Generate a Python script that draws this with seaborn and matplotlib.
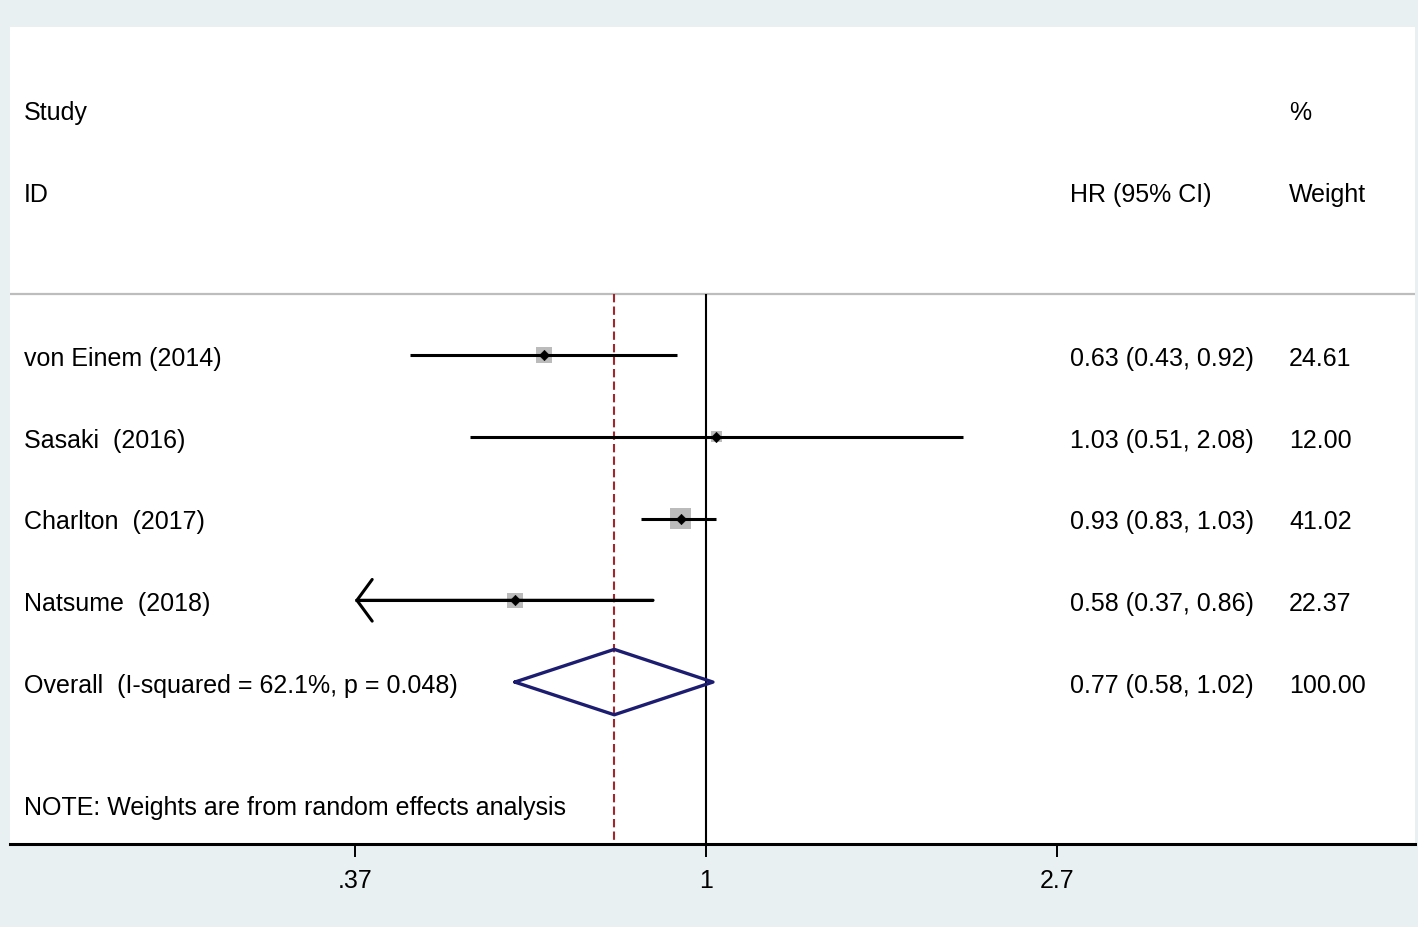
import numpy as np
import pandas as pd
import seaborn as sns
import matplotlib.pyplot as plt

# study rows
studies = ["von Einem (2014)", "Sasaki  (2016)", "Charlton  (2017)", "Natsume  (2018)"]
hr = [0.63, 1.03, 0.93, 0.58]
ci_lo = [0.43, 0.51, 0.83, 0.366]
ci_hi = [0.92, 2.08, 1.03, 0.86]
weights = [24.61, 12.00, 41.02, 22.37]

# pooled estimate
overall_label = "Overall  (I-squared = 62.1%, p = 0.048)"
overall_hr = 0.77
overall_lo = 0.58
overall_hi = 1.02
overall_weight = 100.00

note = "NOTE: Weights are from random effects analysis"
tick_values = [np.exp(-1), 1.0, np.exp(1)]
tick_labels = [".37", "1", "2.7"]

df = pd.DataFrame({"study": studies, "hr": hr, "lo": ci_lo, "hi": ci_hi,
                   "weight": weights, "row": range(len(studies))})
overall_row = len(studies)

sns.set_style("white")
plt.rcParams["font.family"] = ["Liberation Sans", "DejaVu Sans"]
plt.rcParams["text.color"] = "black"

bg = "#e9f0f2"
fig = plt.figure(figsize=(14.18, 9.28), dpi=100, facecolor=bg)
ax = fig.add_axes([10 / 1418, 83 / 928, 1405 / 1418, 817 / 928])
ax.set_facecolor("white")
ax.set_xscale("log")
ax.set_xlim(np.exp(-1.983), np.exp(2.02))
ax.set_ylim(5.98, -4.01)

x_min = tick_values[0]
y_top = -0.75
y_bot = 5.98

# reference lines
ax.vlines(1.0, y_top, y_bot, color="black", lw=1.5, zorder=2)
ax.vlines(overall_hr, y_top, y_bot, color="#a3262e", lw=1.5,
          linestyle=(0, (4, 2)), zorder=2)
ax.axhline(y_top, color="#bdbdbd", lw=1.6, zorder=1)

# weight boxes
sns.scatterplot(data=df, x="hr", y="row", size="weight", sizes=(0, 560),
                size_norm=(0, 100), marker="s", color="#bbbbbb", edgecolor="none",
                legend=False, ax=ax, zorder=3)

# confidence intervals
for _, r in df.iterrows():
    lo = max(r["lo"], x_min)
    ax.hlines(r["row"], lo, r["hi"], color="black", lw=2.2, zorder=4)
    if r["lo"] < x_min:
        ax.annotate("", xy=(x_min, r["row"]), xytext=(r["hi"], r["row"]),
                    arrowprops=dict(arrowstyle="->,head_length=0.55,head_width=0.75",
                                    lw=2.2, color="black", mutation_scale=20,
                                    shrinkA=0, shrinkB=0), zorder=4)

sns.scatterplot(data=df, x="hr", y="row", marker="D", s=28, color="black",
                edgecolor="black", legend=False, ax=ax, zorder=5)

# pooled diamond
ax.plot([overall_lo, overall_hr, overall_hi, overall_hr, overall_lo],
        [overall_row, overall_row - 0.4, overall_row, overall_row + 0.4, overall_row],
        color="#1c1c70", lw=2.4, zorder=5)

# text columns
tr = ax.get_yaxis_transform()
fs = 18
dy = 0.035
x_study, x_hr, x_w = 0.00996, 0.7544, 0.9103


def put(x, y, s):
    ax.text(x, y + dy, s, transform=tr, fontsize=fs, va="center", color="black")


put(x_study, -3, "Study")
put(x_study, -2, "ID")
put(x_hr, -2, "HR (95% CI)")
put(x_w, -3, "%")
put(x_w, -2, "Weight")

for _, r in df.iterrows():
    put(x_study, r["row"], r["study"])
    put(x_hr, r["row"], f"{r['hr']:.2f} ({r['lo']:.2f}, {r['hi']:.2f})")
    put(x_w, r["row"], f"{r['weight']:.2f}")

put(x_study, overall_row, overall_label)
put(x_hr, overall_row, f"{overall_hr:.2f} ({overall_lo:.2f}, {overall_hi:.2f})")
put(x_w, overall_row, f"{overall_weight:.2f}")
put(x_study, 5.49, note)

# axes styling
for side in ["top", "left", "right"]:
    ax.spines[side].set_visible(False)
ax.spines["bottom"].set_linewidth(2.2)
ax.spines["bottom"].set_color("black")
ax.set_yticks([])
ax.set_xticks(tick_values)
ax.set_xticklabels(tick_labels, family=["Liberation Sans Narrow", "Liberation Sans"])
ax.xaxis.set_minor_locator(plt.NullLocator())
ax.tick_params(axis="x", direction="out", length=9.5, width=1.4, labelsize=18,
               pad=8, bottom=True, colors="black")
ax.set_xlabel("")
ax.set_ylabel("")

fig.savefig("out.png", dpi=100, facecolor=bg)
